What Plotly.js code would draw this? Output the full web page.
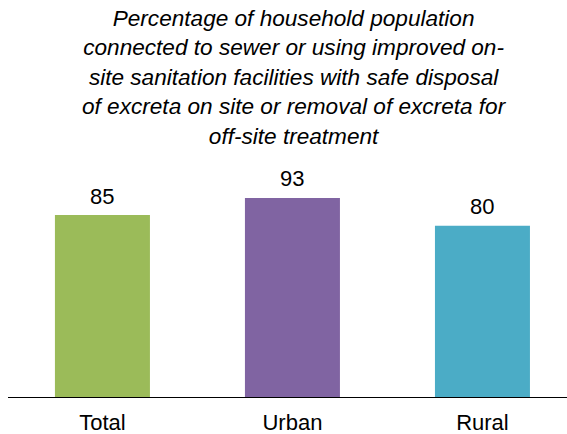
<!DOCTYPE html>
<html><head><meta charset="utf-8">
<script src="https://cdn.plot.ly/plotly-3.0.1.min.js"></script>
<style>html,body{margin:0;padding:0;background:#fff;}#chart{width:567px;height:434px;}</style>
</head><body><div id="chart"></div>
<script>
const categories = ["Total", "Urban", "Rural"];
const values = [85, 93, 80];
const barColors = ["#9BBB59", "#8064A2", "#4BACC6"];
const titleLines = [
  "Percentage of household population",
  "connected to sewer or using improved on-",
  "site sanitation facilities with safe disposal",
  "of excreta on site or removal of excreta for",
  "off-site treatment"
];

const FONT = "Liberation Sans, Arial, sans-serif";

const trace = {
  type: "bar",
  x: categories,
  y: values,
  marker: {color: barColors},
  width: 0.5,
  cliponaxis: false,
  hoverinfo: "none"
};

const valueLabels = categories.map((c, i) => ({
  x: c, y: values[i], xref: "x", yref: "y",
  text: String(values[i]),
  font: {family: FONT, size: 22, color: "#000"},
  xanchor: "center", yanchor: "middle", yshift: 19,
  showarrow: false
}));

const layout = {
  width: 567, height: 434,
  margin: {l: 8, r: 0, t: 183, b: 37},
  paper_bgcolor: "#fff", plot_bgcolor: "#fff",
  showlegend: false,
  annotations: [{
    text: "<i>" + titleLines.join("<br>") + "</i>",
    font: {family: FONT, size: 22.6, color: "#000"},
    xref: "paper", yref: "paper",
    x: (294 - 8) / 559, y: (397 - 78) / 214,
    xanchor: "center", yanchor: "middle",
    align: "center", showarrow: false
  }].concat(valueLabels),
  xaxis: {
    type: "category",
    range: [-0.497, 2.445],
    showline: true, linecolor: "#000", linewidth: 1,
    ticks: "", showgrid: false, zeroline: false,
    ticklabelstandoff: 6,
    tickfont: {family: FONT, size: 22, color: "#000"}
  },
  yaxis: {
    range: [0, 100], visible: false, showgrid: false, zeroline: false
  }
};

Plotly.newPlot("chart", [trace], layout, {staticPlot: true, displayModeBar: false});
</script></body></html>
